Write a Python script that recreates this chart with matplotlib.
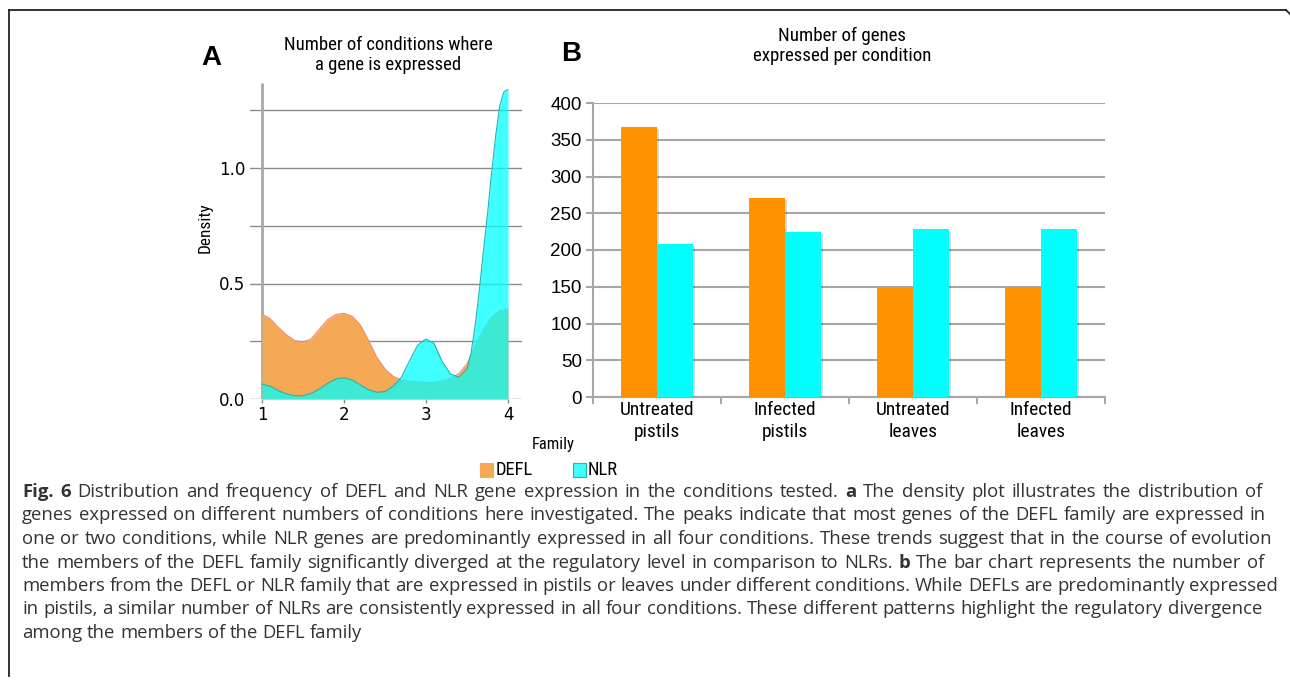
import os
import numpy as np
import matplotlib
matplotlib.use('Agg')
import matplotlib.pyplot as plt
from matplotlib import font_manager as fm
from matplotlib.patches import Rectangle
from matplotlib.lines import Line2D
import matplotlib.patheffects as pe

# --- data ---
# panel A: density curves (x = number of conditions)
defl_x = [1.0, 1.1, 1.2, 1.3, 1.4, 1.5, 1.6, 1.7, 1.8, 1.9, 2.0, 2.1, 2.2, 2.3, 2.4, 2.5,
          2.6, 2.7, 2.8, 2.9, 3.0, 3.1, 3.2, 3.3, 3.4, 3.5, 3.6, 3.7, 3.8, 3.9, 4.0]
defl_y = [0.368, 0.347, 0.31, 0.277, 0.253, 0.246, 0.26, 0.303, 0.344, 0.366, 0.371, 0.358,
          0.32, 0.253, 0.18, 0.13, 0.098, 0.082, 0.077, 0.075, 0.072, 0.072, 0.078, 0.09,
          0.11, 0.152, 0.23, 0.30, 0.355, 0.383, 0.39]
nlr_x = [1.0, 1.1, 1.2, 1.3, 1.4, 1.5, 1.6, 1.7, 1.8, 1.9, 2.0, 2.1, 2.2, 2.3, 2.4, 2.5,
         2.6, 2.7, 2.8, 2.9, 3.0, 3.1, 3.2, 3.3, 3.4, 3.5, 3.55, 3.6, 3.65, 3.7, 3.75,
         3.8, 3.85, 3.9, 3.95, 4.0]
nlr_y = [0.065, 0.055, 0.036, 0.022, 0.014, 0.014, 0.025, 0.043, 0.068, 0.087, 0.092, 0.082,
         0.061, 0.04, 0.029, 0.032, 0.055, 0.094, 0.166, 0.234, 0.26, 0.24, 0.16, 0.108,
         0.095, 0.13, 0.2, 0.32, 0.47, 0.64, 0.8, 0.98, 1.14, 1.27, 1.33, 1.34]

# panel B: genes expressed per condition
conditions = ['Untreated\npistils', 'Infected\npistils', 'Untreated\nleaves', 'Infected\nleaves']
defl_counts = [367, 271, 148, 150]
nlr_counts = [208, 225, 228, 228]

W, H = 1290, 681
fig = plt.figure(figsize=(W / 100, H / 100), dpi=100)
renderer = fig.canvas.get_renderer()

HELV = 'Liberation Sans'
names = {f.name for f in fm.fontManager.ttflist}
CAP = 'Open Sans' if 'Open Sans' in names else 'DejaVu Sans'


# look for a narrow/condensed sans for the chart labels
def pick_condensed():
    prefs = ['liberationsansnarrow-regular', 'robotocondensed-regular', 'notosans-condensed.',
             'opensans-condensed.', 'opensans_condensed-regular', 'opensanscondensed-regular',
             'dejavusanscondensed.ttf']
    files = [f.fname for f in fm.fontManager.ttflist]
    for p in prefs:
        for fn in files:
            if p in os.path.basename(fn).lower():
                return fn
    return None


cond_file = pick_condensed()


def narrow(size):
    if cond_file:
        return fm.FontProperties(fname=cond_file, size=size)
    return fm.FontProperties(family='DejaVu Sans', stretch='condensed', size=size)


def fit(s, target):
    t = fig.text(0, 0, s, fontproperties=narrow(10))
    w = t.get_window_extent(renderer).width
    t.remove()
    return 10 * target / w


def fx(x):
    return x / W


def fy(y):
    return 1 - y / H


# figure border (top and left edge of the frame)
fig.add_artist(Line2D([fx(9), fx(1286)], [fy(10), fy(10)], color='#222222', lw=1.3))
fig.add_artist(Line2D([fx(1286), fx(1290)], [fy(10), fy(14)], color='#222222', lw=1.3))
fig.add_artist(Line2D([fx(9), fx(9)], [fy(10), fy(676)], color='#222222', lw=1.3))

# ---------------- panel A ----------------
axA = fig.add_axes([250 / W, (H - 399) / H, 272 / W, 316 / H])
axA.set_xlim(1 - 12 / 82, 4 + 14 / 82)
axA.set_ylim(0, 316 / 231)
for s in axA.spines.values():
    s.set_visible(False)
for g in [0, 0.25, 0.5, 0.75, 1.0, 1.25]:
    axA.axhline(g, color='#8c8c8c', lw=1.0, zorder=1)
axA.plot([1, 1], [0, 316 / 231], color='#a8a8a8', lw=2, zorder=1, solid_capstyle='butt')

axA.fill_between(defl_x, 0, defl_y, color='#f5a955', lw=0, zorder=2)
axA.plot(defl_x, defl_y, color='#f08a80', lw=0.8, zorder=2)
axA.fill_between(nlr_x, 0, nlr_y, color='#00ffff', alpha=0.75, lw=0, zorder=3)
axA.plot(nlr_x, nlr_y, color='#1fb5b5', lw=0.8, zorder=3)

axA.set_xticks([1, 2, 3, 4])
axA.set_yticks([0, 0.5, 1.0])
axA.set_yticklabels(['0.0', '0.5', '1.0'])
axA.tick_params(axis='x', length=3, color='#8c8c8c', width=1, pad=2, labelsize=12)
axA.tick_params(axis='y', length=0, pad=3.5, labelsize=12)
for lab in axA.get_xticklabels() + axA.get_yticklabels():
    lab.set_family('DejaVu Sans')

fsA = fit('Number of conditions where', 208)
fig.text(fx(388), fy(55), 'Number of conditions where\na gene is expressed', fontproperties=narrow(fsA),
         ha='center', va='center', linespacing=1.15)
fig.text(fx(211), fy(58), 'A', family=HELV, fontweight='bold', fontsize=20, ha='center', va='center')
fig.text(fx(205), fy(228), 'Density', fontproperties=narrow(fit('Density', 50)), rotation=90,
         ha='center', va='center')
fig.text(fx(553), fy(444), 'Family', fontproperties=narrow(fit('Family', 43)), ha='center', va='center')

# legend for panel A
fs_leg = fit('DEFL', 38)
fig.add_artist(Rectangle((fx(480), fy(477)), 13 / W, 14 / H, transform=fig.transFigure,
                         facecolor='#f5a955', edgecolor='#f5a955', lw=0.8))
fig.text(fx(496), fy(470), 'DEFL', fontproperties=narrow(fs_leg), ha='left', va='center')
fig.add_artist(Rectangle((fx(573), fy(477)), 13 / W, 14 / H, transform=fig.transFigure,
                         facecolor='#40ffff', edgecolor='#1fb5b5', lw=0.8))
fig.text(fx(588), fy(470), 'NLR', fontproperties=narrow(fs_leg), ha='left', va='center')

# ---------------- panel B ----------------
axB = fig.add_axes([593 / W, (H - 397) / H, 512 / W, 294 / H])
pos = np.arange(len(conditions))
bw = 0.28
shadow = [pe.SimplePatchShadow(offset=(1.5, -1.5), alpha=0.18), pe.Normal()]
b1 = axB.bar(pos - bw / 2, defl_counts, bw, color='#ff9200', zorder=3)
b2 = axB.bar(pos + bw / 2, nlr_counts, bw, color='#00ffff', zorder=3)
for p in list(b1) + list(b2):
    p.set_path_effects(shadow)
axB.set_xlim(-0.5, 3.5)
axB.set_ylim(0, 400)
axB.set_yticks(range(0, 401, 50))
axB.yaxis.grid(True, color='#a6a6a6', lw=1.5, zorder=0)
axB.set_axisbelow(True)
for k in ['top', 'right']:
    axB.spines[k].set_visible(False)
for k in ['left', 'bottom']:
    axB.spines[k].set_color('#a6a6a6')
    axB.spines[k].set_linewidth(1.5)
axB.set_xticks(pos)
axB.set_xticklabels(conditions, fontproperties=narrow(fit('Untreated', 74)), linespacing=1.25)
axB.set_xticks(np.arange(-0.5, 3.6, 1), minor=True)
axB.tick_params(axis='x', which='major', length=0, pad=3)
axB.tick_params(axis='x', which='minor', length=5, color='#a6a6a6', width=1.5)
axB.tick_params(axis='y', length=5, color='#a6a6a6', width=1.5, pad=3, labelsize=13.5)
for lab in axB.get_yticklabels():
    lab.set_family(HELV)

fsB = fit('Number of genes', 127)
fig.text(fx(842), fy(46), 'Number of genes\nexpressed per condition', fontproperties=narrow(fsB),
         ha='center', va='center', linespacing=1.15)
fig.text(fx(571), fy(54), 'B', family=HELV, fontweight='bold', fontsize=20, ha='center', va='center')

# ---------------- caption ----------------
caption = [
    [('Fig. 6', True), ('Distribution and frequency of DEFL and NLR gene expression in the conditions tested.', False),
     ('a', True), ('The density plot illustrates the distribution of', False)],
    [('genes expressed on different numbers of conditions here investigated. The peaks indicate that most genes of the DEFL family are expressed in', False)],
    [('one or two conditions, while NLR genes are predominantly expressed in all four conditions. These trends suggest that in the course of evolution', False)],
    [('the members of the DEFL family significantly diverged at the regulatory level in comparison to NLRs.', False),
     ('b', True), ('The bar chart represents the number of', False)],
    [('members from the DEFL or NLR family that are expressed in pistils or leaves under different conditions. While DEFLs are predominantly expressed', False)],
    [('in pistils, a similar number of NLRs are consistently expressed in all four conditions. These different patterns highlight the regulatory divergence', False)],
    [('among the members of the DEFL family', False)],
]
line_ends = [1262, 1266, 1272, 1264, 1278, 1262, None]


def text_w(s, fs, bold):
    t = fig.text(0, 0, s, fontsize=fs, family=CAP, fontweight='bold' if bold else 'normal')
    w = t.get_window_extent(renderer).width
    t.remove()
    return w


fs = 10 * (1278 - 22) / text_w(caption[4][0][0], 10, False)
space = text_w('a a', fs, False) - text_w('aa', fs, False)
baselines = [497, 520.5, 544, 567.5, 591, 614.5, 638]
for line, yb, xe in zip(caption, baselines, line_ends):
    words = [(w, bold) for txt, bold in line for w in txt.split(' ')]
    widths = [text_w(w, fs, b) for w, b in words]
    gap = space
    if xe is not None:
        gap = (xe - 22 - sum(widths)) / (len(words) - 1)
    x = 22
    for (w, bold), wd in zip(words, widths):
        fig.text(fx(x), fy(yb), w, fontsize=fs, family=CAP, color='#333333',
                 fontweight='bold' if bold else 'normal', ha='left', va='baseline')
        x += wd + gap

fig.savefig('out.png', dpi=100)
